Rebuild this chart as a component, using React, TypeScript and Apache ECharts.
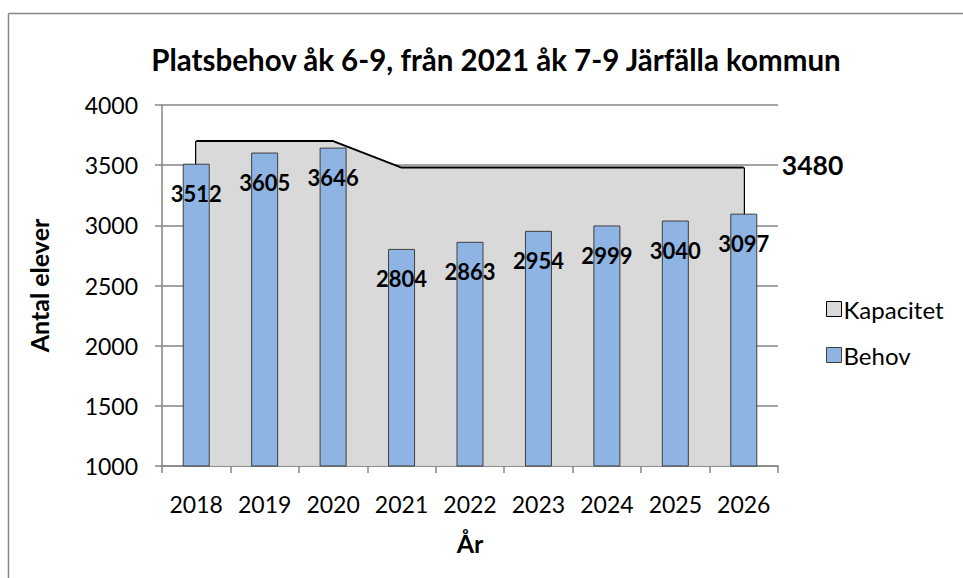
import React, { useEffect, useRef } from "react";
import * as echarts from "echarts";

const years = ["2018", "2019", "2020", "2021", "2022", "2023", "2024", "2025", "2026"];
const behov = [3512, 3605, 3646, 2804, 2863, 2954, 2999, 3040, 3097];
const kapacitet = [3700, 3700, 3700, 3480, 3480, 3480, 3480, 3480, 3480];
const yTicks = { min: 1000, max: 4000, interval: 500 };

const FONT = "Lato, 'Open Sans', sans-serif";

export default function App() {
  const ref = useRef<HTMLDivElement>(null);
  useEffect(() => {
    if (!ref.current) return;
    const chart = echarts.init(ref.current, null, { renderer: "svg" });
    const last = kapacitet.length - 1;
    chart.setOption({
      animation: false,
      backgroundColor: "#fff",
      textStyle: { fontFamily: FONT },
      title: {
        text: "Platsbehov åk 6-9, från 2021 åk 7-9 Järfälla kommun",
        left: 491,
        textAlign: "center",
        top: 39,
        textStyle: { fontSize: 29.5, fontWeight: "bold", color: "#000", fontFamily: FONT },
      },
      graphic: [
        { type: "line", shape: { x1: 8.5, y1: 13.5, x2: 963, y2: 13.5 }, style: { stroke: "#868686", lineWidth: 1.5 } },
        { type: "line", shape: { x1: 8.5, y1: 13.5, x2: 8.5, y2: 578 }, style: { stroke: "#868686", lineWidth: 1.5 } },
      ],
      legend: {
        orient: "vertical",
        left: 821,
        top: 292,
        itemWidth: 15,
        itemHeight: 15,
        itemGap: 22,
        textStyle: { fontSize: 24, color: "#000", fontFamily: FONT, padding: [0, 0, 0, -3] },
        data: [
          { name: "Kapacitet", icon: "rect", itemStyle: { color: "#D9D9D9", borderColor: "#000", borderWidth: 1 } },
          { name: "Behov", icon: "rect", itemStyle: { color: "#8EB4E3", borderColor: "#3F3F3F", borderWidth: 1 } },
        ],
      },
      grid: { left: 162, right: 185, top: 105, bottom: 112 },
      xAxis: {
        type: "category",
        data: years,
        boundaryGap: true,
        name: "År",
        nameLocation: "middle",
        nameGap: 64,
        nameTextStyle: { fontSize: 25, fontWeight: "bold", color: "#000", fontFamily: FONT },
        axisLine: { show: true, lineStyle: { color: "#868686", width: 1.5 } },
        axisTick: { show: true, interval: 0, length: 7, lineStyle: { color: "#868686", width: 1.5 } },
        axisLabel: { fontSize: 23, color: "#000", margin: 26, fontFamily: FONT, interval: 0 },
      },
      yAxis: {
        type: "value",
        min: yTicks.min,
        max: yTicks.max,
        interval: yTicks.interval,
        name: "Antal elever",
        nameLocation: "middle",
        nameGap: 111,
        nameRotate: 90,
        nameTextStyle: { fontSize: 25, fontWeight: "bold", color: "#000", fontFamily: FONT },
        axisLine: { show: true, lineStyle: { color: "#868686", width: 1.5 } },
        axisTick: { show: true, length: 7, lineStyle: { color: "#868686", width: 1.5 } },
        axisLabel: {
          fontSize: 23,
          color: "#000",
          margin: 24,
          fontFamily: FONT,
          formatter: (v: number) => String(v),
        },
        splitLine: { show: true, lineStyle: { color: "#868686", width: 1.5 } },
      },
      series: [
        {
          name: "Kapacitet",
          type: "line",
          data: kapacitet,
          symbol: "none",
          itemStyle: { color: "#D9D9D9" },
          lineStyle: { color: "#000", width: 2 },
          areaStyle: { color: "#D9D9D9", opacity: 1 },
          z: 1,
          markLine: {
            silent: true,
            z: 1,
            symbol: "none",
            label: { show: false },
            lineStyle: { color: "#000", width: 2, type: "solid" },
            data: [
              [{ coord: [years[0], yTicks.min] }, { coord: [years[0], kapacitet[0]] }],
              [{ coord: [years[last], yTicks.min] }, { coord: [years[last], kapacitet[last]] }],
            ],
          },
          markPoint: {
            silent: true,
            symbol: "circle",
            symbolSize: 0,
            data: [
              {
                coord: [years[last], kapacitet[last]],
                value: kapacitet[last],
                label: {
                  show: true,
                  position: "right",
                  distance: 38,
                  offset: [0, -3],
                  fontSize: 26.5,
                  fontWeight: "bold",
                  color: "#000",
                  fontFamily: FONT,
                  formatter: String(kapacitet[last]),
                },
              },
            ],
          },
        },
        {
          name: "Behov",
          type: "bar",
          data: behov,
          barWidth: 27,
          z: 3,
          itemStyle: { color: "#8EB4E3", borderColor: "#3F3F3F", borderWidth: 1 },
          label: {
            show: true,
            position: "insideTop",
            distance: 19,
            fontSize: 22,
            fontWeight: "bold",
            color: "#000",
            fontFamily: FONT,
          },
        },
      ],
    });
    return () => chart.dispose();
  }, []);
  return (
    <div
      ref={ref}
      style={{ position: "fixed", left: 0, top: 0, width: 963, height: 578 }}
    />
  );
}
